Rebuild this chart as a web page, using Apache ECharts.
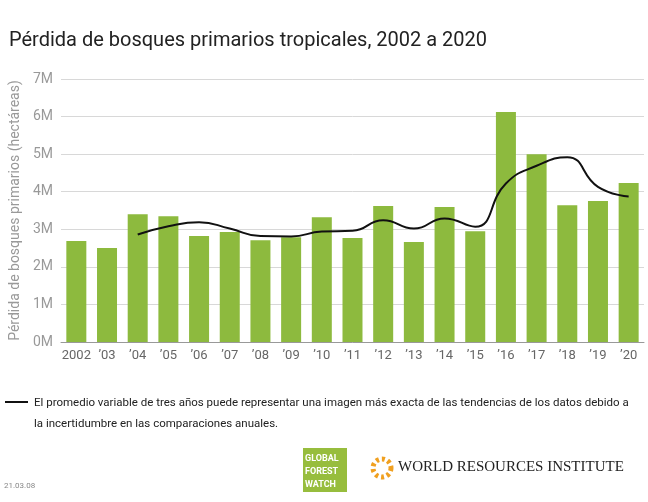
<!DOCTYPE html>
<html><head><meta charset="utf-8">
<script src="https://cdn.jsdelivr.net/npm/echarts@6/dist/echarts.min.js"></script>
<style>body{margin:0}#c{width:648px;height:502px}</style>
</head><body><div id="c"></div>
<script>
var years = ['2002', '\u201903', '\u201904', '\u201905', '\u201906', '\u201907', '\u201908', '\u201909', '\u201910', '\u201911', '\u201912', '\u201913', '\u201914', '\u201915', '\u201916', '\u201917', '\u201918', '\u201919', '\u201920']
var loss = [2.69, 2.5, 3.4, 3.35, 2.82, 2.93, 2.71, 2.79, 3.32, 2.77, 3.62, 2.66, 3.59, 2.95, 6.12, 5.0, 3.64, 3.75, 4.23]
var avg3 = [null, null, 2.86, 3.08, 3.19, 3.02, 2.82, 2.81, 2.94, 2.96, 3.24, 3.02, 3.29, 3.07, 4.22, 4.69, 4.92, 4.13, 3.87]
var font = '"Roboto", "Liberation Sans", sans-serif'

var chart = echarts.init(document.getElementById('c'))
chart.setOption({
  textStyle: { fontFamily: font },
  title: {
    text: 'Pérdida de bosques primarios tropicales, 2002 a 2020',
    left: 4, top: 26,
    textStyle: { fontSize: 20, fontWeight: 'normal', color: '#222', fontFamily: font }
  },
  grid: { left: 50, right: 4, top: 79, bottom: 160 },
  xAxis: {
    type: 'category',
    data: years,
    axisTick: { show: false },
    axisLine: { lineStyle: { color: '#999' } },
    axisLabel: { color: '#666', fontSize: 13, margin: 7, interval: 0 }
  },
  yAxis: {
    type: 'value',
    min: 0, max: 7, interval: 1,
    name: 'Pérdida de bosques primarios (hectáreas)',
    nameLocation: 'middle',
    nameGap: 36,
    nameTextStyle: { color: '#999', fontSize: 14 },
    axisLabel: { color: '#999', fontSize: 14, formatter: '{value}M' },
    splitLine: { lineStyle: { color: '#d8d8d8' } }
  },
  series: [{
    type: 'bar',
    data: loss,
    barWidth: 20,
    itemStyle: { color: '#8dba3e' }
  }, {
    type: 'line',
    data: avg3,
    smooth: true,
    symbol: 'none',
    lineStyle: { color: '#111', width: 2 }
  }],
  graphic: [
    { type: 'line', shape: { x1: 5, y1: 402, x2: 28, y2: 402 }, style: { stroke: '#111', lineWidth: 2 } },
    { type: 'text', left: 34, top: 393, style: { text: 'El promedio variable de tres años puede representar una imagen más exacta de las tendencias de los datos debido a\nla incertidumbre en las comparaciones anuales.', font: '11.5px ' + font, fill: '#222', lineHeight: 21 } },
    { type: 'text', left: 4, top: 482, style: { text: '21.03.08', font: '8px ' + font, fill: '#888' } },
    { type: 'rect', shape: { x: 303, y: 448, width: 44, height: 44 }, style: { fill: '#97bd3d' } },
    { type: 'text', left: 305, top: 452, style: { text: 'GLOBAL\nFOREST\nWATCH', font: 'bold 9px ' + font, fill: '#fff', lineHeight: 13 } },
    { type: 'circle', shape: { cx: 382, cy: 468, r: 9 }, style: { fill: 'none', stroke: '#f0a020', lineWidth: 5, lineDash: [3, 3] } },
    { type: 'text', left: 398, top: 460, style: { text: 'WORLD RESOURCES INSTITUTE', font: '15px "Liberation Serif", serif', fill: '#222' } }
  ]
})
</script></body></html>
